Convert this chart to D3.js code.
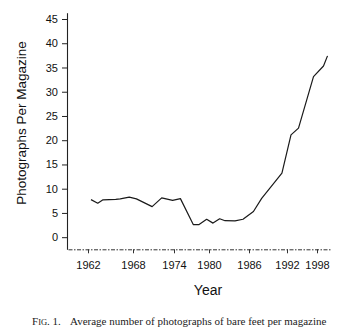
<!DOCTYPE html>
<html>
<head>
<meta charset="utf-8">
<script src="https://cdn.jsdelivr.net/npm/d3@7"></script>
<style>
  html, body { margin: 0; padding: 0; background: #fff; }
  svg { display: block; }
</style>
</head>
<body>
<svg id="chart" width="356" height="334"></svg>
<script>
// Sampled points: year of the issue and photographs of bare feet per magazine
const years  = [1962.4, 1963.3, 1964.0, 1965.7, 1966.3, 1967.5, 1968.5, 1970.8, 1972.2, 1973.8,
                1975.1, 1977.3, 1978.3, 1979.6, 1980.6, 1981.6, 1982.4, 1983.9, 1985.1, 1986.7,
                1988.0, 1989.3, 1991.2, 1992.8, 1994.3, 1997.3, 1999.3, 2000.1];
const photos = [7.75, 7.0, 7.7, 7.8, 7.9, 8.25, 7.9, 6.3, 8.1, 7.6,
                7.95, 2.6, 2.6, 3.7, 2.9, 3.8, 3.4, 3.35, 3.7, 5.3,
                8.0, 10.1, 13.2, 21.1, 22.5, 33.1, 35.3, 37.4];

// Axis tick labels
const yearTicks  = [1962, 1968, 1974, 1980, 1986, 1992, 1998];
const photoTicks = [0, 5, 10, 15, 20, 25, 30, 35, 40, 45];

const svg = d3.select("#chart");
const sans = "'Liberation Sans', Arial, Helvetica, sans-serif";
const serif = "'Liberation Serif', 'Times New Roman', serif";

// Year axis is piecewise linear between its labelled years
const x = d3.scaleLinear()
  .domain([1959.3, 1962, 1968, 1974, 1980, 1986, 1992, 1998, 2000.6])
  .range([68, 88, 133, 174, 209, 249, 287, 317, 330]);

const y = d3.scaleLinear()
  .domain([-2.5, 46.3])
  .range([249.3, 12.7]);

// Vertical axis
const yAxis = svg.append("g")
  .attr("transform", "translate(67,0)")
  .call(d3.axisLeft(y).tickValues(photoTicks).tickSizeOuter(0).tickSizeInner(5).tickPadding(4));
yAxis.select(".domain").attr("stroke", "#222").attr("stroke-width", 1.1);
yAxis.selectAll(".tick line").attr("stroke", "#222");
yAxis.selectAll(".tick text")
  .attr("fill", "#111")
  .style("font-family", sans)
  .style("font-size", "11px");

// Horizontal axis, drawn with a broken line
const xAxis = svg.append("g")
  .attr("transform", "translate(0,249.3)")
  .call(d3.axisBottom(x).tickValues(yearTicks).tickFormat(d3.format("d"))
    .tickSizeOuter(0).tickSizeInner(4).tickPadding(8));
xAxis.select(".domain")
  .attr("stroke", "#333")
  .attr("stroke-width", 1)
  .attr("stroke-dasharray", "4,1.5,1.5,1.5");
xAxis.selectAll(".tick line").attr("stroke", "#333");
xAxis.selectAll(".tick text")
  .attr("fill", "#111")
  .style("font-family", sans)
  .style("font-size", "11px");

// Data line
const line = d3.line()
  .x((d, i) => x(years[i]))
  .y(d => y(d));

svg.append("path")
  .datum(photos)
  .attr("fill", "none")
  .attr("stroke", "#1a1a1a")
  .attr("stroke-width", 1.2)
  .attr("stroke-linejoin", "round")
  .attr("d", line);

// Axis titles
svg.append("text")
  .attr("transform", "translate(26,123) rotate(-90)")
  .attr("text-anchor", "middle")
  .attr("fill", "#111")
  .style("font-family", sans)
  .style("font-size", "13.5px")
  .text("Photographs Per Magazine");

svg.append("text")
  .attr("x", 208)
  .attr("y", 295)
  .attr("text-anchor", "middle")
  .attr("fill", "#111")
  .style("font-family", sans)
  .style("font-size", "14px")
  .text("Year");

// Figure caption
const cap = svg.append("text")
  .attr("y", 325)
  .attr("fill", "#222")
  .style("font-family", serif)
  .style("font-size", "11px");
cap.append("tspan").attr("x", 32).text("F");
cap.append("tspan").style("font-size", "8.5px").text("IG");
cap.append("tspan").text(". 1.");
cap.append("tspan").attr("x", 70).text("Average number of photographs of bare feet per magazine");
</script>
</body>
</html>
